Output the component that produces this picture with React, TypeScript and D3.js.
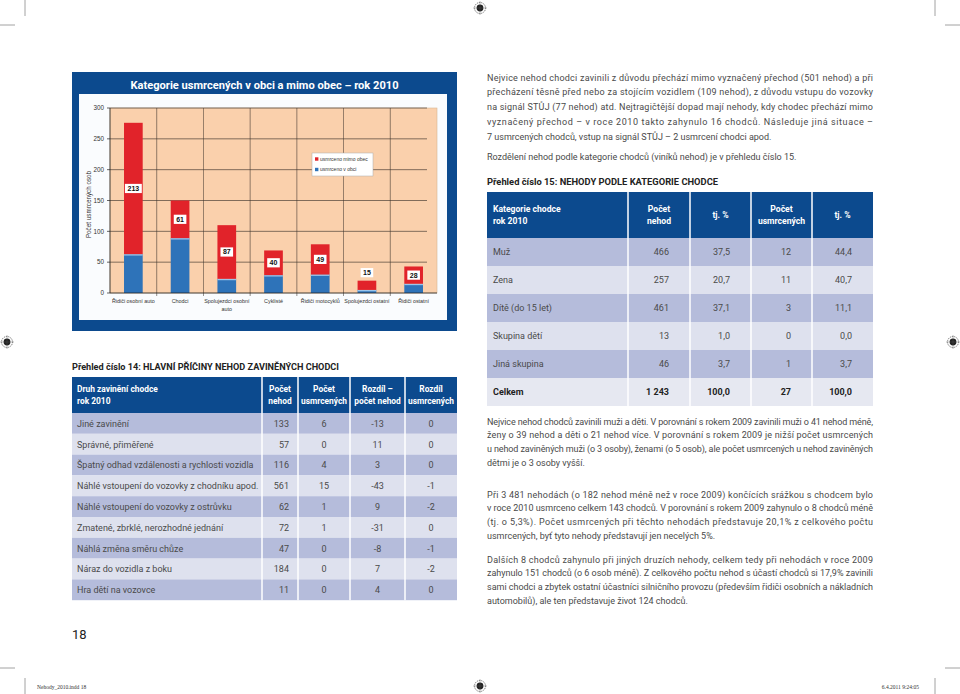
import React from 'react';
import * as d3 from 'd3';

// ---------- chart data ----------
const categories = [
  'Řidiči osobní auto',
  'Chodci',
  'Spolujezdci osobní\nauto',
  'Cyklisté',
  'Řidiči motocyklů',
  'Spolujezdci ostatní',
  'Řidiči ostatní',
];
const killedInTown = [63, 89, 23, 29, 30, 5, 15];
const killedOutTown = [213, 61, 87, 40, 49, 15, 28];
const yTicks = [0, 50, 100, 150, 200, 250, 300];
const seriesNames = ['usmrceno mimo obec', 'usmrceno v obci'];

// ---------- table 14 ----------
const t14Header = [['Druh zavinění chodce', 'rok 2010'], ['Počet', 'nehod'], ['Počet', 'usmrcených'], ['Rozdíl –', 'počet nehod'], ['Rozdíl', 'usmrcených']];
const t14Causes = [
  'Jiné zavinění',
  'Správné, přiměřené',
  'Špatný odhad vzdálenosti a rychlosti vozidla',
  'Náhlé vstoupení do vozovky z chodníku apod.',
  'Náhlé vstoupení do vozovky z ostrůvku',
  'Zmatené, zbrklé, nerozhodné jednání',
  'Náhlá změna směru chůze',
  'Náraz do vozidla z boku',
  'Hra dětí na vozovce',
];
const t14Accidents = [133, 57, 116, 561, 62, 72, 47, 184, 11];
const t14Killed = [6, 0, 4, 15, 1, 1, 0, 0, 0];
const t14DiffAccidents = [-13, 11, 3, -43, 9, -31, -8, 7, 4];
const t14DiffKilled = [0, 0, 0, -1, -2, 0, -1, -2, 0];

// ---------- table 15 ----------
const t15Header = [['Kategorie chodce', 'rok 2010'], ['Počet', 'nehod'], ['tj. %'], ['Počet', 'usmrcených'], ['tj. %']];
const t15Cats = ['Muž', 'Zena', 'Dítě (do 15 let)', 'Skupina dětí', 'Jiná skupina', 'Celkem'];
const t15Accidents = ['466', '257', '461', '13', '46', '1 243'];
const t15AccPct = ['37,5', '20,7', '37,1', '1,0', '3,7', '100,0'];
const t15Killed = ['12', '11', '3', '0', '1', '27'];
const t15KilledPct = ['44,4', '40,7', '11,1', '0,0', '3,7', '100,0'];

// ---------- texts ----------
const para1 = [
  'Nejvice nehod chodci zavinili z důvodu přechází mimo vyznačený přechod (501 nehod) a při',
  'přecházení těsně před nebo za stojícím vozidlem (109 nehod), z důvodu vstupu do vozovky',
  'na signál STŮJ (77 nehod) atd. Nejtragičtější dopad mají nehody, kdy chodec přechází mimo',
  'vyznačený přechod – v roce 2010 takto zahynulo 16 chodců. Následuje jiná situace –',
  '7 usmrcených chodců, vstup na signál STŮJ – 2 usmrcení chodci apod.',
];
const para2 = ['Rozdělení nehod podle kategorie chodců (viníků nehod) je v přehledu číslo 15.'];
const paraA = [
  'Nejvice nehod chodců zavinili muži a děti. V porovnání s rokem 2009 zavinili muži o 41 nehod méně,',
  'ženy o 39 nehod a děti o 21 nehod více. V porovnání s rokem 2009 je nižší počet usmrcených',
  'u nehod zaviněných muži (o 3 osoby), ženami (o 5 osob), ale počet usmrcených u nehod zaviněných',
  'dětmi je o 3 osoby vyšší.',
];
const paraB = [
  'Při 3 481 nehodách (o 182 nehod méně než v roce 2009) končících srážkou s chodcem bylo',
  'v roce 2010 usmrceno celkem 143 chodců. V porovnání s rokem 2009 zahynulo o 8 chodců méně',
  '(tj. o 5,3%). Počet usmrcených při těchto nehodách představuje 20,1% z celkového počtu',
  'usmrcených, byť tyto nehody představují jen necelých 5%.',
];
const paraC = [
  'Dalších 8 chodců zahynulo při jiných druzích nehody, celkem tedy při nehodách v roce 2009',
  'zahynulo 151 chodců (o 6 osob méně). Z celkového počtu nehod s účastí chodců si 17,9% zavinili',
  'sami chodci a zbytek ostatní účastníci silničního provozu (především řidiči osobních a nákladních',
  'automobilů), ale ten představuje život 124 chodců.',
];

const BODY = 'Roboto, "Open Sans", sans-serif';
const HEAD = 'Roboto, "Open Sans", sans-serif';
const ARIAL = '"Liberation Sans", Arial, sans-serif';
const NAVY = '#0c4a8e';
const ROW_DARK = '#b5bcdb';
const ROW_LIGHT = '#dee1ee';
const TXT = '#4a4a4a';

function Para({ x, y, lh, width, lines, size = 9 }: any) {
  return (
    <g fontFamily={BODY} fontSize={size} fill={TXT}>
      {lines.map((l: string, i: number) =>
        i < lines.length - 1 ? (
          <text key={i} x={x} y={y + i * lh} textLength={width} lengthAdjust="spacing">{l}</text>
        ) : (
          <text key={i} x={x} y={y + i * lh}>{l}</text>
        )
      )}
    </g>
  );
}

function RegMark({ cx, cy }: any) {
  return (
    <g>
      <circle cx={cx} cy={cy} r={5.5} fill="#fff" stroke="#555" strokeWidth={0.8} strokeDasharray="1.2 0.8" />
      <circle cx={cx} cy={cy} r={3.4} fill="#222" />
      <line x1={cx - 7} x2={cx + 7} y1={cy} y2={cy} stroke="#555" strokeWidth={0.4} />
      <line x1={cx} x2={cx} y1={cy - 7} y2={cy + 7} stroke="#555" strokeWidth={0.4} />
    </g>
  );
}

function Chart() {
  const plot = { left: 110, right: 437, top: 108, bottom: 293 };
  const x = d3.scaleBand<string>().domain(categories).range([plot.left, plot.right]).paddingInner(0.6).paddingOuter(0.3);
  const y = d3.scaleLinear().domain([0, 300]).range([plot.bottom, plot.top]);
  const rows = categories.map((c, i) => ({ cat: c, inTown: killedInTown[i], outTown: killedOutTown[i] }));
  const stack = d3.stack<any>().keys(['inTown', 'outTown'])(rows);
  const colors = ['#2e73b9', '#e1232a'];
  const step = x.step();
  const sepX = d3.range(1, categories.length).map((i) => plot.left + i * step);

  return (
    <g>
      <rect x={72} y={72} width={385} height={259} fill={NAVY} />
      <rect x={79} y={94} width={368} height={226} fill="#fafcfe" />
      <text x={264.5} y={89} textAnchor="middle" fill="#fff" fontFamily={BODY} fontWeight={700} fontSize={11.5} textLength={268} lengthAdjust="spacingAndGlyphs">
        Kategorie usmrcených v obci a mimo obec – rok 2010
      </text>
      <rect x={plot.left} y={plot.top} width={plot.right - plot.left} height={plot.bottom - plot.top} fill="#fad0ac" stroke="#d8b594" strokeWidth={0.6} />
      {yTicks.slice(1).map((t) => (
        <line key={t} x1={plot.left} x2={plot.right - 10} y1={y(t)} y2={y(t)} stroke="#3e342c" strokeWidth={0.8} opacity={0.8} />
      ))}
      {sepX.map((sx, i) => (
        <line key={i} x1={sx} x2={sx} y1={plot.top} y2={plot.bottom + 3} stroke="#3e342c" strokeWidth={0.7} opacity={0.8} />
      ))}
      {/* bars */}
      {stack.map((layer, li) =>
        layer.map((d: any, i: number) => {
          const bx = x(categories[i])!;
          const y0 = y(d[0]);
          const y1 = y(d[1]);
          return (
            <g key={li + '-' + i}>
              <rect x={bx} y={y1} width={x.bandwidth()} height={y0 - y1} fill={colors[li]} />
              {li === 0 && <rect x={bx} y={y1} width={x.bandwidth()} height={1.4} fill="#9cc5ea" />}
            </g>
          );
        })
      )}
      {/* data labels for out-of-town series */}
      {stack[1].map((d: any, i: number) => {
        const cx = x(categories[i])! + x.bandwidth() / 2;
        const segH = y(d[0]) - y(d[1]);
        const cy = segH < 12 ? y(d[1]) - 8 : (y(d[0]) + y(d[1])) / 2;
        const label = String(killedOutTown[i]);
        const w = label.length * 4.3 + 4;
        return (
          <g key={'lab' + i}>
            <rect x={cx - w / 2} y={cy - 4.6} width={w} height={9.2} fill="#fff" />
            <text x={cx} y={cy + 2.5} textAnchor="middle" fontFamily={ARIAL} fontWeight={700} fontSize={7} fill="#111">{label}</text>
          </g>
        );
      })}
      {/* axes */}
      <line x1={plot.left} x2={plot.left} y1={plot.top} y2={plot.bottom} stroke="#222" strokeWidth={0.8} />
      <line x1={plot.left} x2={plot.right} y1={plot.bottom} y2={plot.bottom} stroke="#222" strokeWidth={0.8} />
      {yTicks.map((t) => (
        <g key={'yt' + t}>
          <line x1={plot.left - 3} x2={plot.left} y1={y(t)} y2={y(t)} stroke="#222" strokeWidth={0.7} />
          <text x={plot.left - 6} y={y(t) + 2.2} textAnchor="end" fontFamily={ARIAL} fontSize={6.3} fill="#333">{t}</text>
        </g>
      ))}
      <text transform={`translate(90.5,${(plot.top + plot.bottom) / 2 + 4}) rotate(-90)`} textAnchor="middle" fontFamily={ARIAL} fontSize={6.3} fill="#333">
        Počet usmrcených osob
      </text>
      {categories.map((c, i) => (
        <text key={'xl' + i} x={x(c)! + x.bandwidth() / 2} y={plot.bottom + 10} textAnchor="middle" fontFamily={ARIAL} fontSize={5.4} fill="#333">
          {c.split('\n').map((s, j) => (
            <tspan key={j} x={x(c)! + x.bandwidth() / 2} dy={j === 0 ? 0 : 7.5}>{s}</tspan>
          ))}
        </text>
      ))}
      {/* legend */}
      <rect x={312} y={153} width={61} height={23} fill="#fff" stroke="#aaa" strokeWidth={0.5} />
      {seriesNames.map((s, i) => (
        <g key={s}>
          <rect x={315} y={157.3 + i * 10.5} width={3.4} height={3.4} fill={colors[1 - i]} />
          <text x={320} y={160.6 + i * 10.5} fontFamily={ARIAL} fontSize={5} fill="#333">{s}</text>
        </g>
      ))}
    </g>
  );
}

function Table14() {
  const cols = [72, 262, 298, 350, 405, 457];
  const top = 377, headH = 36, rowH = 20.8;
  const cols2 = [t14Accidents, t14Killed, t14DiffAccidents, t14DiffKilled];
  return (
    <g>
      <text x={72} y={369.5} fontFamily={BODY} fontWeight={700} fontSize={9} fill="#222" textLength={267} lengthAdjust="spacingAndGlyphs">
        Přehled číslo 14: HLAVNÍ PŘÍČINY NEHOD ZAVINĚNÝCH CHODCI
      </text>
      <rect x={cols[0]} y={top} width={cols[5] - cols[0]} height={headH} fill={NAVY} />
      {t14Header.map((h, ci) => (
        <text key={ci} fontFamily={HEAD} fontWeight={700} fontSize={8.4} fill="#fff"
          textAnchor={ci === 0 ? 'start' : 'middle'}>
          {h.map((s, j) => (
            <tspan key={j} x={ci === 0 ? 77 : (cols[ci] + cols[ci + 1]) / 2} y={top + 14.5 + j * 12}>{s}</tspan>
          ))}
        </text>
      ))}
      {t14Causes.map((c, ri) => {
        const ry = top + headH + ri * rowH;
        return (
          <g key={ri}>
            <rect x={cols[0]} y={ry} width={cols[5] - cols[0]} height={rowH} fill={ri % 2 === 0 ? ROW_DARK : ROW_LIGHT} />
            <text x={77} y={ry + rowH / 2 + 3.3} fontFamily={BODY} fontSize={9} fill={TXT}>{c}</text>
            {cols2.map((arr, ci) => (
              <text key={ci} x={ci === 0 ? cols[2] - 9 : (cols[ci + 1] + cols[ci + 2]) / 2} y={ry + rowH / 2 + 3.3}
                textAnchor={ci === 0 ? 'end' : 'middle'} fontFamily={BODY} fontSize={9} fill={TXT}>{arr[ri]}</text>
            ))}
          </g>
        );
      })}
      {cols.slice(1, 5).map((cx, i) => (
        <line key={i} x1={cx} x2={cx} y1={top} y2={top + headH + rowH * t14Causes.length} stroke="#fff" strokeWidth={1.5} />
      ))}
    </g>
  );
}

function Table15() {
  const cols = [487, 628, 690, 751, 812, 873];
  const top = 192, headH = 46, rowH = 28;
  const valCols = [t15Accidents, t15AccPct, t15Killed, t15KilledPct];
  return (
    <g>
      <text x={487} y={184.5} fontFamily={BODY} fontWeight={700} fontSize={9} fill="#222" textLength={231} lengthAdjust="spacingAndGlyphs">
        Přehled číslo 15: NEHODY PODLE KATEGORIE CHODCE
      </text>
      <rect x={cols[0]} y={top} width={cols[5] - cols[0]} height={headH} fill={NAVY} />
      {t15Header.map((h, ci) => (
        <text key={ci} fontFamily={HEAD} fontWeight={700} fontSize={8.6} fill="#fff"
          textAnchor={ci === 0 ? 'start' : 'middle'}>
          {h.map((s, j) => (
            <tspan key={j} x={ci === 0 ? 493 : (cols[ci] + cols[ci + 1]) / 2}
              y={top + (h.length === 1 ? 26 : 20 + j * 12)}>{s}</tspan>
          ))}
        </text>
      ))}
      {t15Cats.map((c, ri) => {
        const ry = top + headH + ri * rowH;
        const last = ri === t15Cats.length - 1;
        return (
          <g key={ri}>
            <rect x={cols[0]} y={ry} width={cols[5] - cols[0]} height={rowH} fill={last ? '#e6e8f1' : ri % 2 === 0 ? ROW_DARK : ROW_LIGHT} />
            <text x={493} y={ry + rowH / 2 + 3.3} fontFamily={BODY} fontSize={9} fontWeight={last ? 700 : 400} fill={last ? '#222' : TXT}>{c}</text>
            {valCols.map((arr, ci) => (
              <text key={ci} x={cols[ci + 2] - 21} y={ry + rowH / 2 + 3.3} textAnchor="end" fontFamily={BODY} fontSize={9}
                fontWeight={last ? 700 : 400} fill={last ? '#222' : TXT}>{arr[ri]}</text>
            ))}
          </g>
        );
      })}
      {cols.slice(1, 5).map((cx, i) => (
        <line key={i} x1={cx} x2={cx} y1={top} y2={top + headH + rowH * t15Cats.length} stroke="#fff" strokeWidth={1.5} />
      ))}
    </g>
  );
}

export default function App() {
  const mark = '#8a8a8a';
  return (
    <svg width={960} height={694} style={{ position: 'absolute', left: 0, top: 0, display: 'block', background: '#fff' }}>
      <rect x={0} y={0} width={960} height={694} fill="#fff" />
      {/* crop marks */}
      <g stroke={mark} strokeWidth={0.8}>
        <line x1={25} x2={25} y1={0} y2={16} />
        <line x1={0} x2={15} y1={25} y2={25} />
        <line x1={935} x2={935} y1={0} y2={16} />
        <line x1={945} x2={960} y1={25} y2={25} />
        <line x1={0} x2={15} y1={668} y2={668} />
        <line x1={25} x2={25} y1={678} y2={694} />
        <line x1={945} x2={960} y1={668} y2={668} />
        <line x1={935} x2={935} y1={678} y2={694} />
      </g>
      <RegMark cx={480} cy={8} />
      <RegMark cx={7} cy={342} />
      <RegMark cx={953} cy={342} />
      <RegMark cx={480} cy={686} />

      <Chart />

      <Para x={487} y={80.5} lh={14.75} width={386} lines={para1} />
      <Para x={487} y={159.5} lh={14.75} width={386} lines={para2} />
      <Table15 />
      <Table14 />
      <Para x={487} y={424.5} lh={13.8} width={386} lines={paraA} />
      <Para x={487} y={497.5} lh={13.8} width={386} lines={paraB} />
      <Para x={487} y={562.5} lh={13.8} width={386} lines={paraC} />

      <text x={72} y={639} fontFamily={BODY} fontSize={13} fill="#222">18</text>
      <text x={37} y={688.5} fontFamily='"Liberation Serif", serif' fontSize={5.5} fill="#333">Nehody_2010.indd   18</text>
      <text x={919} y={688.5} textAnchor="end" fontFamily='"Liberation Serif", serif' fontSize={5.5} fill="#333">6.4.2011   9:24:05</text>
    </svg>
  );
}
